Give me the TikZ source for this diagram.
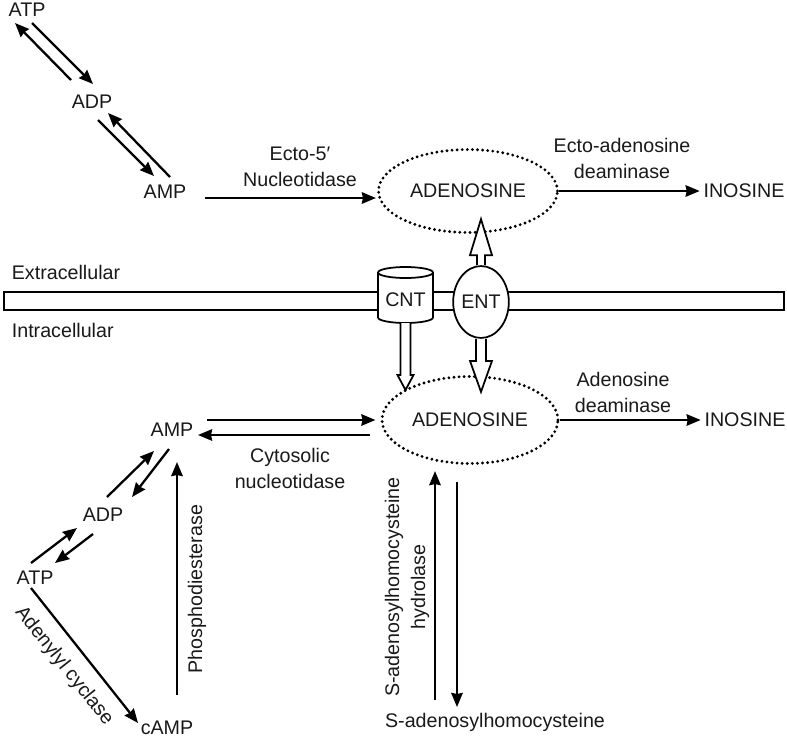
\documentclass[tikz,border=0pt]{standalone}
\usepackage{fontspec}
\setmainfont{Liberation Sans}
\usetikzlibrary{arrows.meta,shapes.geometric}

\begin{document}
\begin{tikzpicture}[x=0.02cm,y=-0.02cm,
	>={Stealth[length=8pt,width=6.5pt,inset=0.6pt]},
	font=\fontsize{11.2}{14.8}\selectfont,
	txt/.style={text=black!90, inner sep=2pt},
	lbl/.style={txt, align=center},
	rxn/.style={->, line width=1.3pt},
	pool/.style={ellipse, draw, line width=1.8pt, dash pattern=on 0pt off 2.9pt, line cap=round,
		minimum width=3.58cm, minimum height=1.66cm, txt},
	hollow/.style={draw, fill=white, line width=1pt, line join=miter}]
	\useasboundingbox (0,0) rectangle (787,741);

	% outside the cell
	\node[txt] (atpA) at (27,10) {ATP};
	\node[txt] (adpA) at (92,102) {ADP};
	\node[txt] (ampA) at (165,192) {AMP};
	\node[pool] (adoA) at (468,191) {ADENOSINE};
	\node[txt] (inoA) at (744,191) {INOSINE};
	\node[lbl] (ecto) at (300,167) {Ecto-5′\\Nucleotidase};
	\node[lbl] (adaA) at (622,158) {Ecto-adenosine\\deaminase};

	\draw[rxn] ([shift={(-21,-22)}]adpA.center) -- ([shift={(-12,13)}]atpA.center);
	\draw[rxn] ([shift={(5,13)}]atpA.center) -- ([shift={(1,-18)}]adpA.center);
	\draw[rxn] ([shift={(6,18)}]adpA.center) -- ([shift={(-11,-16)}]ampA.center);
	\draw[rxn] ([shift={(5,-15)}]ampA.center) -- ([shift={(16,11)}]adpA.center);
	\draw[rxn] ([shift={(40,6)}]ampA.center) -- ([shift={(-1,7)}]adoA.west);
	\draw[rxn] (adoA.east) -- (inoA.west);

	% membrane and transporters
	\draw[line width=1pt] (4,292) rectangle (784,310);
	\node[txt, anchor=west] (extra) at (8,272) {Extracellular};
	\node[txt, anchor=west] (intra) at (8,330) {Intracellular};

	\filldraw[fill=white, line width=1pt] (378,272.5) -- (378,317.5)
		arc[start angle=180, end angle=360, x radius=0.55cm, y radius=0.11cm] -- (433,272.5);
	\filldraw[fill=white, line width=1pt] (405.5,272.5) ellipse[x radius=0.55cm, y radius=0.11cm];
	\node[txt] (cnt) at (405.5,300) {CNT};
	\node[txt, ellipse, draw, fill=white, line width=1pt, inner sep=0pt,
		minimum width=1.04cm, minimum height=1.44cm] (ent) at (481,302) {ENT};
	\draw[hollow] (ent.north) ++(-4,0) -- ++(0,-10) -- ++(-7,0) -- ++(11,-36) -- ++(11,36) -- ++(-7,0) -- ++(0,10);

	% inside the cell
	\node[pool, minimum width=3.52cm, minimum height=1.74cm] (adoB) at (470,420) {ADENOSINE};
	\node[txt] (inoB) at (745,420) {INOSINE};
	\node[lbl] (adaB) at (623,392) {Adenosine\\deaminase};
	\draw[rxn] (adoB.east) -- (inoB.west);

	\draw[hollow] (cnt) ++(-5,23) -- ++(0,52) -- ++(-3,0) -- ++(8,15) -- ++(8,-15) -- ++(-3,0) -- ++(0,-52);
	\draw[hollow] (ent.south) ++(-5,0) -- ++(0,22) -- ++(-6,0) -- ++(11,31) -- ++(11,-31) -- ++(-6,0) -- ++(0,-22);

	\node[txt] (ampB) at (172,430) {AMP};
	\node[txt] (adpB) at (103,515) {ADP};
	\node[txt] (atpB) at (35,578) {ATP};
	\node[txt] (campB) at (167,728) {cAMP};
	\node[lbl] (cyto) at (290,468) {Cytosolic\\nucleotidase};
	\node[txt, rotate=90] (pde) at (197,589) {Phosphodiesterase};
	\node[txt, rotate=-51.6, inner sep=0pt] (ac) at (64,666) {Adenylyl cyclase};
	\node[lbl, rotate=90] (sahh) at (407,587) {S-adenosylhomocysteine\\hydrolase};
	\node[txt] (sah) at (495,722) {S-adenosylhomocysteine};

	\draw[rxn] ([shift={(35,-10)}]ampB.center) -- ([shift={(-5,0)}]adoB.west);
	\draw[rxn] ([shift={(-10,15)}]adoB.west) -- ([shift={(26,5)}]ampB.center);
	\draw[rxn] ([shift={(4,-18)}]adpB.center) -- ([shift={(-18,21)}]ampB.center);
	\draw[rxn] ([shift={(-3,19)}]ampB.center) -- ([shift={(29,-18)}]adpB.center);
	\draw[rxn] ([shift={(-4,-15)}]atpB.center) -- ([shift={(-26,13)}]adpB.center);
	\draw[rxn] ([shift={(-10,19)}]adpB.center) -- ([shift={(20,-15)}]atpB.center);
	\draw[rxn] ([shift={(-4,10)}]atpB.center) -- ([shift={(-29,-5)}]campB.center);
	\draw[rxn] ([shift={(10,-33)}]campB.center) -- ([shift={(5,32)}]ampB.center);
	\draw[rxn] ([shift={(-60,-22)}]sah.center) -- ([shift={(-35,6)}]adoB.south);
	\draw[rxn] ([shift={(-13,17)}]adoB.south) -- ([shift={(-38,-15)}]sah.center);
\end{tikzpicture}
\end{document}
